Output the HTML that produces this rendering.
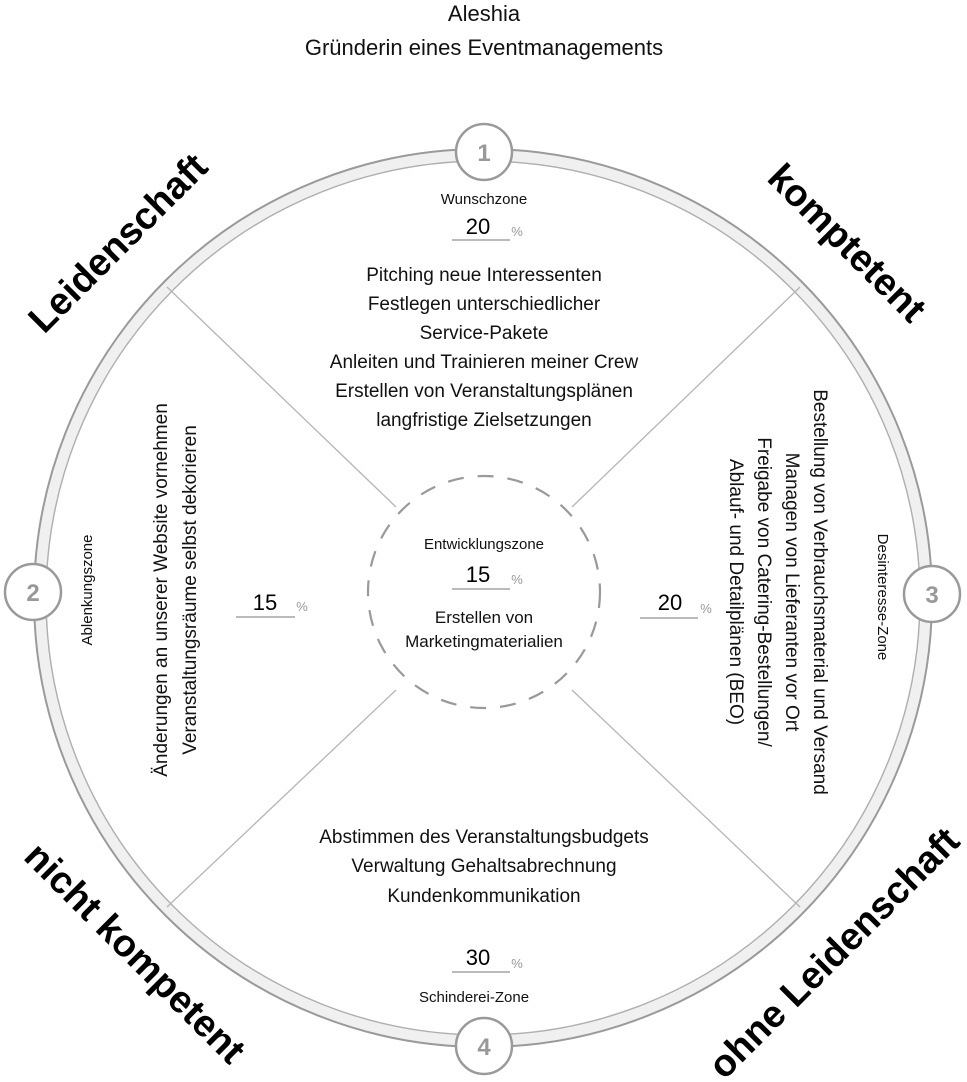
<!DOCTYPE html>
<html><head><meta charset="utf-8"><style>
html,body{margin:0;padding:0;background:#fff;}
svg{display:block;}
text{font-family:"Liberation Sans",Arial,sans-serif;}
</style></head><body>
<svg width="967" height="1082" viewBox="0 0 967 1082" xmlns="http://www.w3.org/2000/svg">
<text x="484" y="21" font-size="22" text-anchor="middle" fill="#111">Aleshia</text>
<text x="484" y="55" font-size="22" text-anchor="middle" fill="#111">Gründerin eines Eventmanagements</text>

<circle cx="483" cy="598" r="443" fill="none" stroke="#f0f0f0" stroke-width="10"/>
<circle cx="483" cy="598" r="449" fill="none" stroke="#9a9a9a" stroke-width="2"/>
<circle cx="483" cy="598" r="437" fill="none" stroke="#b0b0b0" stroke-width="1.5"/>

<g stroke="#b5b5b5" stroke-width="1.3" fill="none">
<line x1="167" y1="287" x2="396" y2="507"/>
<line x1="800" y1="287" x2="572" y2="507"/>
<line x1="167" y1="907" x2="396" y2="690"/>
<line x1="800" y1="907" x2="572" y2="690"/>
</g>
<circle cx="484" cy="592" r="116" fill="#fff" stroke="#999" stroke-width="2.2" stroke-dasharray="16,14"/>

<g fill="#fff" stroke="#9a9a9a" stroke-width="2.5">
<circle cx="484" cy="152" r="28"/><circle cx="33" cy="592" r="28"/>
<circle cx="932" cy="594" r="28"/><circle cx="484" cy="1046" r="28"/>
</g>
<g font-size="24" font-weight="bold" fill="#999" text-anchor="middle">
<text x="484" y="161">1</text><text x="33" y="601">2</text>
<text x="932" y="603">3</text><text x="484" y="1055">4</text>
</g>

<g font-size="38" font-weight="bold" fill="#000" text-anchor="middle">
<text transform="translate(127,252) rotate(-45)">Leidenschaft</text>
<text transform="translate(838,252) rotate(45)">komptetent</text>
<text transform="translate(126,962) rotate(45)">nicht kompetent</text>
<text transform="translate(843,962) rotate(-45)">ohne Leidenschaft</text>
</g>

<g text-anchor="middle" fill="#111">
<text x="484" y="204" font-size="15">Wunschzone</text>
<text x="478" y="234" font-size="22" fill="#000">20</text>
<text x="517" y="236" font-size="13" fill="#999">%</text>
<line x1="452" y1="240" x2="510" y2="240" stroke="#bbb" stroke-width="2"/>

<g font-size="19">
<text x="484" y="281">Pitching neue Interessenten</text>
<text x="484" y="310">Festlegen unterschiedlicher</text>
<text x="484" y="339">Service-Pakete</text>
<text x="484" y="368">Anleiten und Trainieren meiner Crew</text>
<text x="484" y="397">Erstellen von Veranstaltungsplänen</text>
<text x="484" y="426">langfristige Zielsetzungen</text>
</g>

<text x="484" y="549" font-size="15">Entwicklungszone</text>
<text x="478" y="582" font-size="22" fill="#000">15</text>
<text x="517" y="584" font-size="13" fill="#999">%</text>
<line x1="452" y1="589" x2="510" y2="589" stroke="#bbb" stroke-width="2"/>
<text x="484" y="623" font-size="17">Erstellen von</text>
<text x="484" y="647" font-size="17">Marketingmaterialien</text>

<text x="265" y="610" font-size="22" fill="#000">15</text>
<text x="302" y="611" font-size="13" fill="#999">%</text>
<line x1="236" y1="617" x2="295" y2="617" stroke="#bbb" stroke-width="2"/>

<text x="670" y="610" font-size="22" fill="#000">20</text>
<text x="706" y="613" font-size="13" fill="#999">%</text>
<line x1="640" y1="618" x2="698" y2="618" stroke="#bbb" stroke-width="2"/>

<text transform="translate(92,590) rotate(-90)" font-size="15">Ablenkungszone</text>
<text transform="translate(878,597) rotate(90)" font-size="15">Desinteresse-Zone</text>

<g font-size="19">
<text transform="translate(167,590) rotate(-90)">Änderungen an unserer Website vornehmen</text>
<text transform="translate(196,590) rotate(-90)">Veranstaltungsräume selbst dekorieren</text>
</g>
<g font-size="19">
<text transform="translate(814,592) rotate(90)">Bestellung von Verbrauchsmaterial und Versand</text>
<text transform="translate(786,592) rotate(90)">Managen von Lieferanten vor Ort</text>
<text transform="translate(758,592) rotate(90)">Freigabe von Catering-Bestellungen/</text>
<text transform="translate(730,592) rotate(90)">Ablauf- und Detailplänen (BEO)</text>
</g>

<g font-size="19">
<text x="484" y="843">Abstimmen des Veranstaltungsbudgets</text>
<text x="484" y="872">Verwaltung Gehaltsabrechnung</text>
<text x="484" y="902">Kundenkommunikation</text>
</g>

<text x="478" y="965" font-size="22" fill="#000">30</text>
<text x="517" y="968" font-size="13" fill="#999">%</text>
<line x1="452" y1="972" x2="510" y2="972" stroke="#bbb" stroke-width="2"/>
<text x="474" y="1002" font-size="15">Schinderei-Zone</text>
</g>
</svg>
</body></html>
